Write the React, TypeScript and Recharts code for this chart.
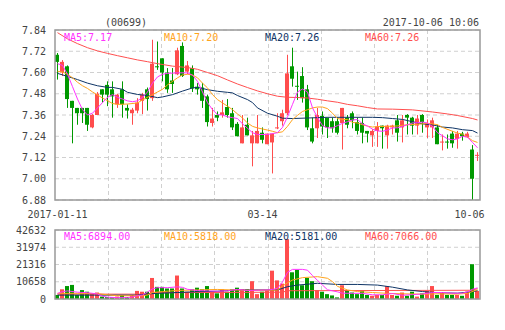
import React from 'react'
import { ComposedChart, Bar, Line, XAxis, YAxis, CartesianGrid } from 'recharts'

// daily candles (index 0 = 2017-01-11)
const opens = [
  7.70, 7.60, 7.635, 7.44, 7.40, 7.40, 7.40, 7.29, 7.36, 7.505,
  7.53, 7.505, 7.42, 7.505, 7.40, 7.37, 7.385, 7.44, 7.505, 7.455,
  7.635, 7.68, 7.60, 7.555, 7.59, 7.75, 7.605, 7.625, 7.52, 7.515,
  7.465, 7.315, 7.36, 7.36, 7.405, 7.37, 7.31, 7.20, 7.305, 7.20,
  7.20, 7.26, 7.195, 7.205, 7.285, 7.325, 7.37, 7.635, 7.525, 7.58,
  7.505, 7.285, 7.285, 7.355, 7.345, 7.325, 7.325, 7.315, 7.345, 7.37,
  7.32, 7.315, 7.27, 7.245, 7.27, 7.30, 7.245, 7.29, 7.33, 7.29,
  7.36, 7.345, 7.30, 7.36, 7.29, 7.29, 7.29, 7.205, 7.21, 7.255,
  7.225, 7.255, 7.235, 7.165, 7.13,
]
const highs = [
  7.71, 7.67, 7.64, 7.44, 7.40, 7.40, 7.40, 7.365, 7.49, 7.505,
  7.55, 7.55, 7.48, 7.55, 7.42, 7.40, 7.455, 7.485, 7.515, 7.785,
  7.775, 7.68, 7.625, 7.625, 7.74, 7.77, 7.665, 7.64, 7.54, 7.54,
  7.475, 7.40, 7.38, 7.445, 7.45, 7.40, 7.32, 7.36, 7.345, 7.27,
  7.36, 7.29, 7.255, 7.255, 7.37, 7.39, 7.70, 7.74, 7.605, 7.63,
  7.53, 7.345, 7.40, 7.38, 7.345, 7.345, 7.345, 7.40, 7.36, 7.38,
  7.345, 7.345, 7.27, 7.28, 7.32, 7.30, 7.305, 7.305, 7.36, 7.36,
  7.365, 7.35, 7.36, 7.365, 7.335, 7.345, 7.305, 7.25, 7.25, 7.27,
  7.27, 7.265, 7.265, 7.19, 7.15,
]
const lows = [
  7.56, 7.58, 7.40, 7.20, 7.305, 7.315, 7.27, 7.285, 7.36, 7.43,
  7.41, 7.345, 7.40, 7.345, 7.34, 7.305, 7.37, 7.365, 7.385, 7.44,
  7.615, 7.55, 7.485, 7.485, 7.585, 7.575, 7.59, 7.49, 7.475, 7.40,
  7.295, 7.295, 7.325, 7.345, 7.345, 7.275, 7.24, 7.20, 7.245, 7.07,
  7.20, 7.20, 7.195, 7.03, 7.28, 7.30, 7.36, 7.52, 7.445, 7.43,
  7.275, 7.20, 7.23, 7.25, 7.23, 7.26, 7.25, 7.165, 7.285, 7.285,
  7.25, 7.20, 7.205, 7.18, 7.18, 7.17, 7.17, 7.25, 7.21, 7.205,
  7.25, 7.25, 7.25, 7.26, 7.23, 7.23, 7.195, 7.16, 7.17, 7.175,
  7.17, 7.215, 7.23, 6.88, 7.10,
]
const closes = [
  7.66, 7.66, 7.45, 7.40, 7.37, 7.37, 7.305, 7.36, 7.48, 7.475,
  7.475, 7.465, 7.475, 7.42, 7.385, 7.39, 7.43, 7.475, 7.45, 7.65,
  7.63, 7.60, 7.505, 7.535, 7.725, 7.58, 7.64, 7.51, 7.505, 7.44,
  7.32, 7.34, 7.345, 7.375, 7.36, 7.29, 7.24, 7.29, 7.245, 7.245,
  7.27, 7.22, 7.255, 7.255, 7.29, 7.37, 7.595, 7.565, 7.52, 7.455,
  7.29, 7.21, 7.36, 7.295, 7.29, 7.285, 7.26, 7.40, 7.305, 7.33,
  7.27, 7.26, 7.255, 7.27, 7.295, 7.285, 7.30, 7.30, 7.26, 7.33,
  7.345, 7.30, 7.34, 7.32, 7.315, 7.33, 7.195, 7.21, 7.205, 7.20,
  7.255, 7.24, 7.255, 7.00, 7.135,
]
const volumes = [
  2500, 6000, 8000, 8700, 2500, 5500, 4500, 3500, 4000, 1500,
  1200, 1200, 1500, 2500, 1200, 2500, 5000, 4500, 4500, 13000,
  7500, 7500, 6500, 6500, 14500, 6500, 4500, 6000, 7000, 6000,
  8000, 4500, 3500, 6000, 4500, 6000, 7000, 6000, 6000, 11000,
  3000, 4500, 5500, 17500, 11500, 9500, 37000, 16500, 18000, 8500,
  13000, 11000, 5500, 4500, 3000, 2200, 1000, 8500, 5500, 4000,
  3000, 5500, 2500, 2000, 2500, 2500, 8000, 2500, 2000, 4000,
  2000, 4500, 1500, 3500, 5000, 8000, 2500, 4000, 2500, 2500,
  2500, 2000, 4500, 21500, 5000,
]

// moving averages as [candle index, value], read where the lines bend
const ma5 = [[0,7.65],[1,7.64],[2,7.59],[3,7.52],[4,7.45],[5,7.39],[6,7.36],[7,7.37],[8,7.40],[9,7.43],[10,7.46],[11,7.475],[12,7.46],[13,7.45],[14,7.44],[15,7.435],[16,7.44],[17,7.46],[18,7.49],[19,7.54],[20,7.575],[21,7.59],[22,7.595],[24,7.598],[26,7.598],[27,7.585],[28,7.55],[29,7.49],[30,7.43],[31,7.39],[32,7.362],[33,7.36],[34,7.35],[35,7.345],[36,7.34],[37,7.31],[38,7.285],[39,7.26],[40,7.25],[42,7.25],[43,7.255],[44,7.26],[45,7.29],[46,7.35],[47,7.42],[48,7.49],[49,7.507],[50,7.49],[51,7.40],[52,7.345],[53,7.30],[54,7.287],[55,7.288],[56,7.30],[57,7.313],[58,7.322],[59,7.332],[60,7.334],[61,7.31],[62,7.298],[63,7.28],[64,7.27],[65,7.268],[66,7.275],[67,7.287],[68,7.288],[69,7.296],[70,7.305],[71,7.315],[72,7.317],[73,7.32],[74,7.315],[75,7.295],[76,7.26],[77,7.243],[78,7.225],[79,7.22],[80,7.225],[81,7.24],[82,7.235],[83,7.205],[84,7.175]]
const ma10 = [[0,7.607],[1,7.603],[2,7.59],[3,7.57],[4,7.545],[5,7.525],[6,7.51],[7,7.49],[9,7.456],[11,7.425],[12,7.42],[14,7.422],[16,7.428],[17,7.445],[18,7.46],[19,7.475],[20,7.49],[21,7.505],[22,7.53],[23,7.55],[24,7.57],[25,7.586],[26,7.59],[27,7.586],[28,7.57],[29,7.54],[30,7.513],[31,7.475],[32,7.447],[33,7.428],[34,7.41],[35,7.39],[36,7.366],[37,7.343],[38,7.315],[39,7.296],[40,7.287],[42,7.275],[43,7.268],[44,7.26],[45,7.265],[46,7.296],[47,7.334],[48,7.358],[49,7.38],[50,7.39],[51,7.40],[52,7.405],[53,7.405],[54,7.396],[55,7.37],[56,7.34],[57,7.335],[58,7.335],[59,7.318],[60,7.315],[61,7.305],[62,7.297],[63,7.292],[64,7.295],[66,7.296],[68,7.298],[70,7.305],[72,7.308],[74,7.312],[75,7.31],[76,7.305],[77,7.29],[79,7.268],[80,7.258],[81,7.252],[82,7.236],[83,7.215],[84,7.205]]
const ma20 = [[0,7.595],[2,7.578],[4,7.56],[6,7.54],[8,7.525],[10,7.516],[11,7.516],[13,7.505],[14,7.488],[16,7.476],[18,7.47],[20,7.458],[21,7.462],[23,7.475],[25,7.495],[27,7.513],[28,7.516],[29,7.51],[30,7.503],[32,7.494],[34,7.488],[35,7.485],[36,7.47],[38,7.447],[39,7.43],[40,7.40],[42,7.37],[44,7.353],[45,7.342],[47,7.34],[50,7.343],[54,7.347],[63,7.347],[65,7.345],[67,7.34],[69,7.335],[71,7.322],[73,7.31],[75,7.304],[77,7.292],[79,7.287],[81,7.277],[83,7.272],[84,7.258]]
const ma60 = [[0,7.825],[2,7.79],[4,7.763],[6,7.74],[8,7.722],[10,7.708],[12,7.695],[14,7.683],[16,7.671],[18,7.661],[20,7.65],[23,7.636],[26,7.628],[28,7.618],[30,7.60],[32,7.582],[34,7.558],[36,7.535],[38,7.515],[40,7.496],[42,7.48],[44,7.466],[46,7.46],[48,7.459],[50,7.456],[52,7.449],[54,7.44],[56,7.432],[58,7.42],[60,7.412],[62,7.402],[64,7.394],[67,7.393],[71,7.389],[75,7.377],[78,7.366],[80,7.357],[83,7.34],[84,7.332]]

const vma5 = [[0,3500],[1,4500],[2,5000],[4,4200],[6,3900],[8,3100],[9,1700],[10,1100],[12,850],[14,850],[15,1300],[16,2000],[17,2500],[18,4300],[19,6300],[20,7000],[22,7000],[24,7500],[25,7200],[26,6000],[28,5200],[30,5000],[32,4800],[34,5100],[36,5900],[38,5300],[40,5400],[42,5600],[43,5900],[44,6600],[45,10500],[46,16500],[47,18300],[49,18300],[50,17800],[51,14500],[52,11500],[53,8600],[54,5700],[56,4400],[57,3600],[59,3500],[61,3500],[63,2600],[65,2600],[67,3400],[69,2300],[71,2700],[73,3100],[75,4000],[77,4000],[79,3600],[81,3600],[82,4400],[83,6000],[84,6900]]
const vma10 = [[0,3500],[4,3500],[8,3300],[10,2600],[12,2000],[15,2000],[17,2000],[18,2500],[19,4000],[21,4600],[24,5300],[28,5600],[32,5900],[36,5500],[40,5400],[44,5500],[45,8000],[46,10000],[47,11700],[49,13200],[52,13800],[54,12800],[55,10700],[56,7800],[58,5600],[60,4600],[63,4000],[66,3500],[69,3200],[73,3000],[76,3200],[80,3000],[82,3500],[84,5800]]
const vma20 = [[0,2400],[16,2400],[18,3100],[20,3500],[24,4000],[28,4500],[32,4800],[36,5600],[44,5600],[46,7600],[48,8600],[52,9700],[56,9000],[60,9000],[64,8600],[67,7300],[70,5600],[73,4600],[76,3900],[80,3600],[83,4500],[84,5200]]
const vma60 = [[0,3000],[18,3000],[19,3900],[45,4200],[46,5100],[83,5400],[84,6500]]

const priceTicks = [6.88, 7.0, 7.12, 7.24, 7.36, 7.48, 7.6, 7.72, 7.84]
const volTicks = [0, 10658, 21316, 31974, 42632]
const dateTicks: Record<number, string> = { 0: '2017-01-11', 41: '03-14', 84: '10-06' }
const GRID_COLS = 8

const RED = '#ff4d4d'
const GREEN = '#009900'
const C5 = '#ff33ff'
const C10 = '#ffa41c'
const C20 = '#0f3566'
const C60 = '#ff4f4f'
const FONT = '"DejaVu Sans Mono", monospace'

const rows = opens.map((o, i) => ({
  i,
  o,
  h: highs[i],
  l: lows[i],
  c: closes[i],
  range: [lows[i], highs[i]],
  vol: volumes[i],
  ma5: null as number | null,
  ma10: null as number | null,
  ma20: null as number | null,
  ma60: null as number | null,
  vma5: null as number | null,
  vma10: null as number | null,
  vma20: null as number | null,
  vma60: null as number | null,
}))
const put = (key: string, pts: number[][]) => pts.forEach(([i, v]) => ((rows[i] as any)[key] = v))
put('ma5', ma5)
put('ma10', ma10)
put('ma20', ma20)
put('ma60', ma60)
put('vma5', vma5)
put('vma10', vma10)
put('vma20', vma20)
put('vma60', vma60)

// vertical grid splits the plot in 8 equal columns, independent of the candles
const colLines = ({ offset }: any) => {
  const out: number[] = []
  for (let k = 1; k < GRID_COLS; k++) out.push(Math.round(offset.left + (offset.width * k) / GRID_COLS) + 0.5)
  return out
}

function Candle(props: any) {
  const { x, y, width, height, payload } = props
  const { o, c, h, l } = payload
  const color = c >= o ? RED : GREEN
  const top0 = Math.min(y, y + height)
  const hgt = Math.abs(height)
  const span = h - l || 1
  const py = (p: number) => top0 + ((h - p) / span) * hgt
  const cx = Math.floor(x + width / 2) + 0.5
  const bTop = py(Math.max(o, c))
  const bBot = py(Math.min(o, c))
  return (
    <g>
      <line x1={cx} x2={cx} y1={top0} y2={top0 + hgt} stroke={color} strokeWidth={1} />
      <rect x={cx - 2.5} y={bTop} width={4} height={Math.max(bBot - bTop, 1)} fill={color} />
    </g>
  )
}

function VolBar(props: any) {
  const { x, y, width, height, payload } = props
  const color = payload.c >= payload.o ? RED : GREEN
  const cx = Math.floor(x + width / 2)
  return <rect x={cx - 2} y={y} width={4} height={Math.max(height, 0)} fill={color} />
}

function DateTick(props: any) {
  const { x, y, payload } = props
  const label = dateTicks[payload.value]
  const last = payload.value === 84
  return (
    <text x={last ? x + 7 : x} y={y + 10} textAnchor={last ? 'end' : 'middle'} fontSize={10} fontFamily={FONT} fill="#444">
      {label}
    </text>
  )
}

const tickStyle = { fontSize: 10, fontFamily: FONT, fill: '#444' }

export default function App() {
  return (
    <div style={{ position: 'absolute', left: 0, top: 0, width: 505, height: 330, background: '#fff' }}>
      <div style={{ position: 'absolute', left: 0, top: 0 }}>
        <ComposedChart width={505} height={220} data={rows} margin={{ top: 30, right: 25, left: 0, bottom: 0 }} barCategoryGap={0}>
          <CartesianGrid stroke="#d0d0d0" strokeDasharray="4 3" verticalCoordinatesGenerator={colLines} />
          <XAxis dataKey="i" interval={0} ticks={[0, 41, 84]} tick={<DateTick />} tickLine={false} axisLine={false} height={20} />
          <YAxis domain={[6.88, 7.84]} ticks={priceTicks} tickFormatter={(v: number) => v.toFixed(2)} width={55} tickLine={false} axisLine={false} tick={tickStyle} tickMargin={3} interval={0} />
          <Line dataKey="ma60" stroke={C60} strokeWidth={1} dot={false} connectNulls isAnimationActive={false} />
          <Line dataKey="ma20" stroke={C20} strokeWidth={1} dot={false} connectNulls isAnimationActive={false} />
          <Line dataKey="ma10" stroke={C10} strokeWidth={1} dot={false} connectNulls isAnimationActive={false} />
          <Bar dataKey="range" shape={<Candle />} isAnimationActive={false} />
          <Line dataKey="ma5" stroke={C5} strokeWidth={1} dot={false} connectNulls isAnimationActive={false} />
        </ComposedChart>
      </div>
      <div style={{ position: 'absolute', left: 0, top: 220 }}>
        <ComposedChart width={505} height={86} data={rows} margin={{ top: 10, right: 25, left: 0, bottom: 7 }} barCategoryGap={0}>
          <CartesianGrid stroke="#d0d0d0" strokeDasharray="4 3" verticalCoordinatesGenerator={colLines} />
          <XAxis dataKey="i" hide />
          <YAxis domain={[0, 42632]} ticks={volTicks} width={55} tickLine={false} axisLine={false} tick={tickStyle} tickMargin={3} interval={0} />
          <Bar dataKey="vol" shape={<VolBar />} isAnimationActive={false} />
          <Line dataKey="vma60" stroke={C60} strokeWidth={1} dot={false} connectNulls isAnimationActive={false} />
          <Line dataKey="vma20" stroke={C20} strokeWidth={1} dot={false} connectNulls isAnimationActive={false} />
          <Line dataKey="vma10" stroke={C10} strokeWidth={1} dot={false} connectNulls isAnimationActive={false} />
          <Line dataKey="vma5" stroke={C5} strokeWidth={1} dot={false} connectNulls isAnimationActive={false} />
        </ComposedChart>
      </div>
      <svg width={505} height={330} style={{ position: 'absolute', left: 0, top: 0, pointerEvents: 'none' }} fontFamily={FONT} fontSize={10}>
        <rect x={55} y={30} width={425} height={170} fill="none" stroke="#999" strokeWidth={1.5} />
        <rect x={55} y={230} width={425} height={69} fill="none" stroke="#999" strokeWidth={1.5} />
        <text x={105} y={26} fill="#444">(00699)</text>
        <text x={479} y={26} fill="#444" textAnchor="end">2017-10-06 10:06</text>
        <text x={64} y={41} fill={C5}>MA5:7.17</text>
        <text x={164} y={41} fill={C10}>MA10:7.20</text>
        <text x={265} y={41} fill={C20}>MA20:7.26</text>
        <text x={365} y={41} fill={C60}>MA60:7.26</text>
        <text x={64} y={240} fill={C5}>MA5:6894.00</text>
        <text x={164} y={240} fill={C10}>MA10:5818.00</text>
        <text x={265} y={240} fill={C20}>MA20:5181.00</text>
        <text x={365} y={240} fill={C60}>MA60:7066.00</text>
      </svg>
    </div>
  )
}
